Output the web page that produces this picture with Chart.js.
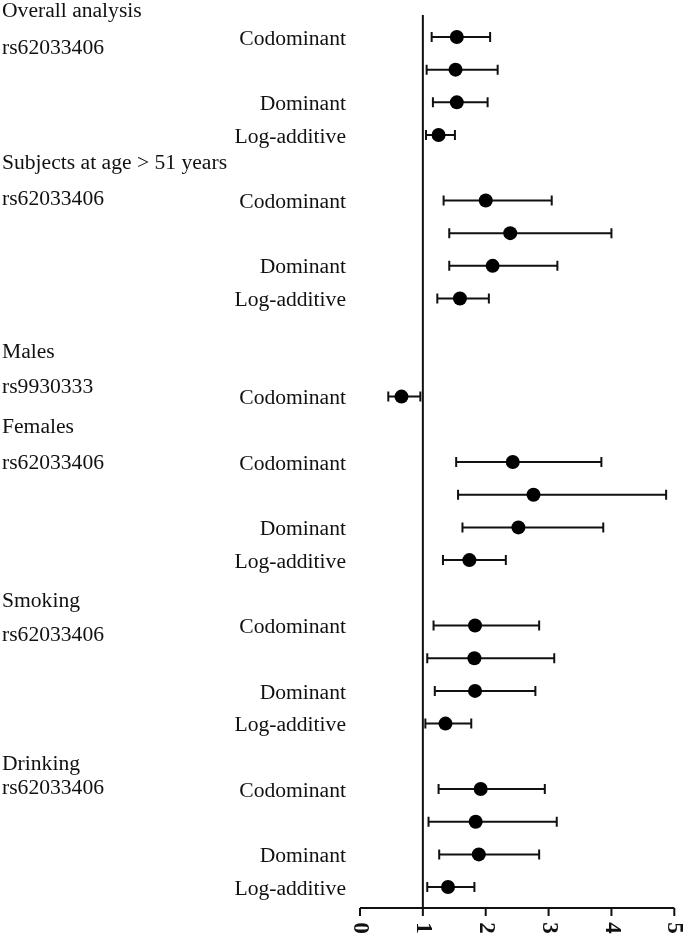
<!DOCTYPE html>
<html>
<head>
<meta charset="utf-8">
<script src="https://cdn.jsdelivr.net/npm/chart.js@4/dist/chart.umd.min.js"></script>
<style>
  html, body { margin: 0; padding: 0; background: #fff; }
  #wrap { width: 685px; height: 938px; position: relative; }
</style>
</head>
<body>
<div id="wrap"><canvas id="c"></canvas></div>
<script>
// ---- data ----
const rowPos = [1,2,3,4, 6,7,8,9, 12, 14,15,16,17, 19,20,21,22, 24,25,26,27];
const modelLabels = ['Codominant','','Dominant','Log-additive',
                     'Codominant','','Dominant','Log-additive',
                     'Codominant',
                     'Codominant','','Dominant','Log-additive',
                     'Codominant','','Dominant','Log-additive',
                     'Codominant','','Dominant','Log-additive'];
const orValues = [1.54,1.52,1.54,1.25, 2.00,2.39,2.11,1.59, 0.66, 2.43,2.76,2.52,1.74, 1.83,1.82,1.83,1.36, 1.92,1.84,1.89,1.40];
const ciLower  = [1.14,1.06,1.16,1.05, 1.33,1.42,1.42,1.23, 0.45, 1.53,1.56,1.63,1.32, 1.17,1.07,1.19,1.04, 1.25,1.09,1.26,1.07];
const ciUpper  = [2.07,2.19,2.03,1.51, 3.05,4.00,3.14,2.05, 0.96, 3.84,4.87,3.87,2.32, 2.85,3.09,2.79,1.77, 2.94,3.13,2.85,1.82];
const groupTitles = ['Overall analysis','rs62033406','Subjects at age > 51 years','rs62033406',
                     'Males','rs9930333','Females','rs62033406',
                     'Smoking','rs62033406','Drinking','rs62033406'];
const groupTitleRows = [0.17,1.28,4.79,5.89,10.57,11.67,12.87,13.97,18.19,19.23,23.17,23.93];
const xTicks = [0,1,2,3,4,5];
const refValue = 1;

const FONT = '"Liberation Serif", "Times New Roman", serif';
const INK = '#111';

const forestPlugin = {
  id: 'forest',
  beforeDatasetsDraw(chart) {
    const ctx = chart.ctx, xs = chart.scales.x, ys = chart.scales.y;
    ctx.save();
    // reference line
    ctx.strokeStyle = INK; ctx.lineWidth = 2;
    const rx = xs.getPixelForValue(refValue);
    ctx.beginPath(); ctx.moveTo(rx, 15); ctx.lineTo(rx, chart.chartArea.bottom); ctx.stroke();
    // error bars
    ctx.lineWidth = 2;
    for (let i = 0; i < rowPos.length; i++) {
      const y = ys.getPixelForValue(rowPos[i]);
      const x1 = xs.getPixelForValue(ciLower[i]);
      const x2 = xs.getPixelForValue(ciUpper[i]);
      ctx.beginPath();
      ctx.moveTo(x1, y); ctx.lineTo(x2, y);
      ctx.moveTo(x1, y - 5); ctx.lineTo(x1, y + 5);
      ctx.moveTo(x2, y - 5); ctx.lineTo(x2, y + 5);
      ctx.stroke();
    }
    ctx.restore();
  },
  afterDraw(chart) {
    const ctx = chart.ctx, xs = chart.scales.x, ys = chart.scales.y;
    const bottom = chart.chartArea.bottom;
    ctx.save();
    // x axis
    ctx.strokeStyle = INK; ctx.lineWidth = 2;
    ctx.beginPath();
    ctx.moveTo(xs.getPixelForValue(xTicks[0]), bottom);
    ctx.lineTo(xs.getPixelForValue(xTicks[xTicks.length - 1]), bottom);
    for (const t of xTicks) {
      const px = xs.getPixelForValue(t);
      ctx.moveTo(px, bottom); ctx.lineTo(px, bottom + 8);
    }
    ctx.stroke();
    ctx.fillStyle = INK;
    ctx.font = 'bold 23px ' + FONT;
    ctx.textAlign = 'center'; ctx.textBaseline = 'middle';
    for (const t of xTicks) {
      const px = xs.getPixelForValue(t);
      ctx.save();
      ctx.translate(px, bottom + 20);
      ctx.rotate(Math.PI / 2);
      ctx.fillText(String(t), 0, 0);
      ctx.restore();
    }
    // model labels
    ctx.font = '21.6px ' + FONT;
    ctx.textAlign = 'right'; ctx.textBaseline = 'middle';
    const dy = 2;
    for (let i = 0; i < rowPos.length; i++) {
      if (!modelLabels[i]) continue;
      ctx.fillText(modelLabels[i], 346, ys.getPixelForValue(rowPos[i]) + dy);
    }
    // group titles
    ctx.textAlign = 'left';
    for (let i = 0; i < groupTitles.length; i++) {
      ctx.fillText(groupTitles[i], 2, ys.getPixelForValue(groupTitleRows[i]) + dy);
    }
    ctx.restore();
  }
};

new Chart(document.getElementById('c'), {
  type: 'scatter',
  data: {
    datasets: [{
      data: orValues.map((v, i) => ({ x: v, y: rowPos[i] })),
      pointRadius: 7,
      pointHoverRadius: 7,
      pointBackgroundColor: '#000',
      pointBorderColor: '#000',
      pointBorderWidth: 0,
      showLine: false,
      clip: false
    }]
  },
  options: {
    responsive: true,
    maintainAspectRatio: false,
    animation: false,
    layout: { autoPadding: false, padding: { left: 360, right: 10.7, top: 0, bottom: 30 } },
    plugins: { legend: { display: false }, tooltip: { enabled: false } },
    scales: {
      x: { type: 'linear', min: 0, max: 5, display: false },
      y: { type: 'linear', min: -0.13, max: 27.64, reverse: true, display: false }
    }
  },
  plugins: [forestPlugin]
});
</script>
</body>
</html>
